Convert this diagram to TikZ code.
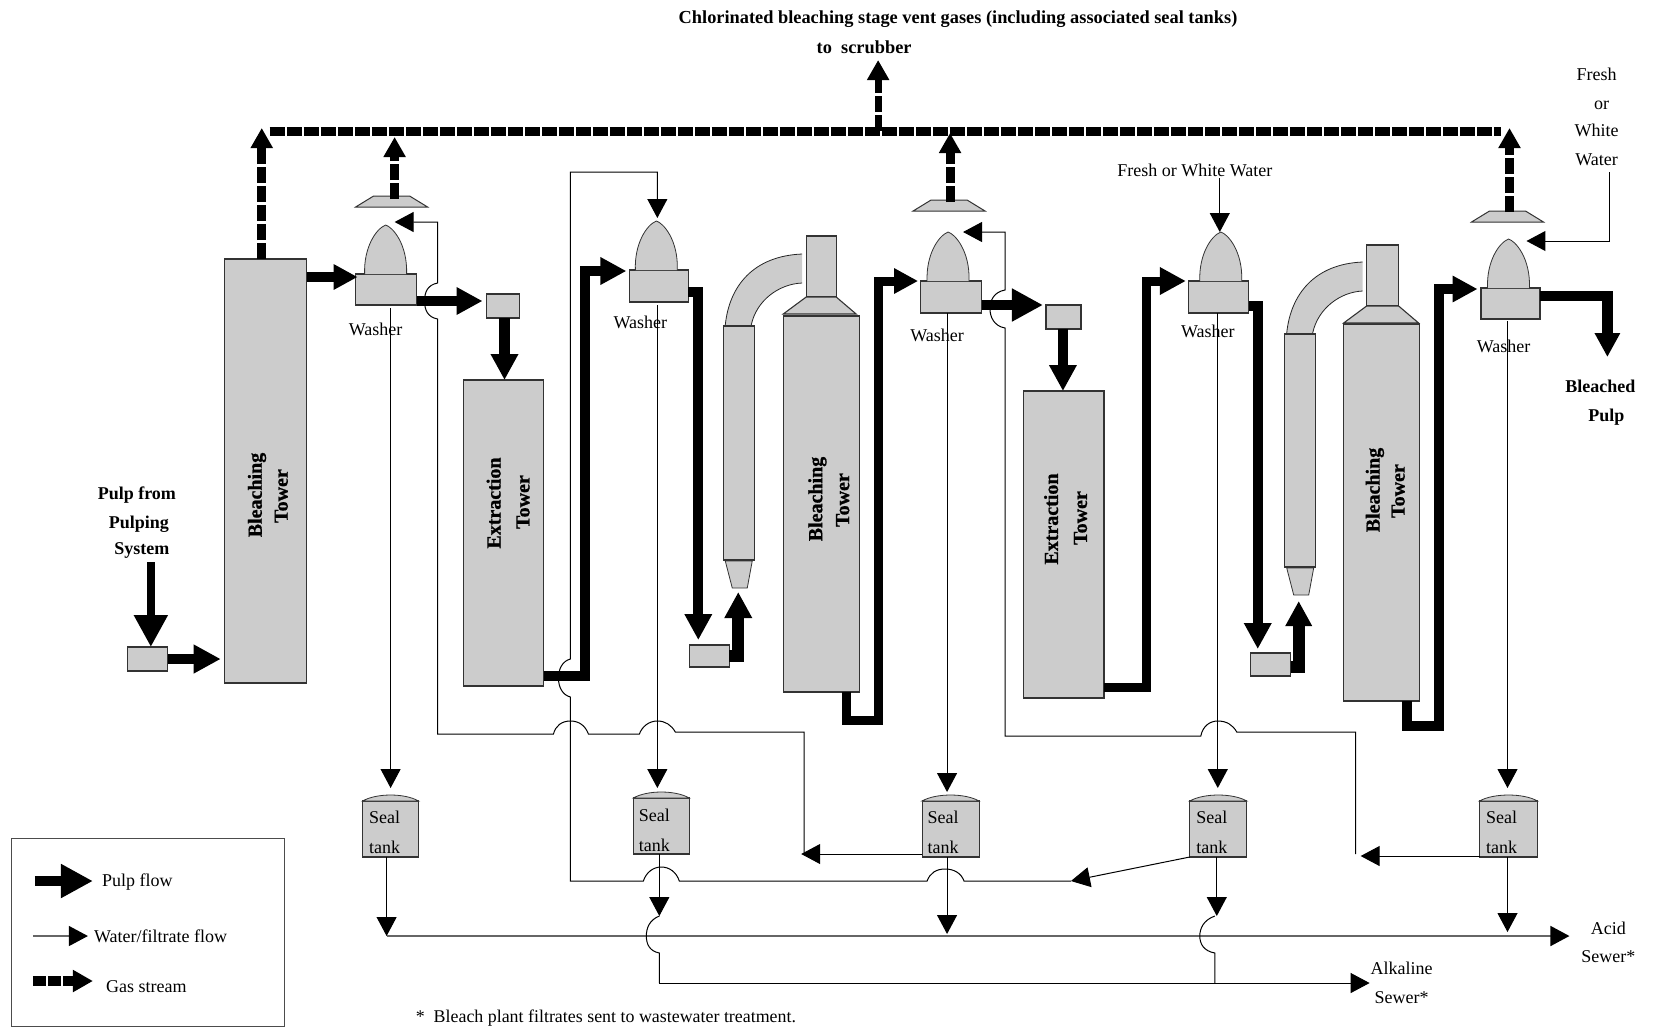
\documentclass[tikz,border=0pt]{standalone}
\usepackage{fontspec}
\setmainfont{Liberation Serif}
\newfontfamily\towerfont[UprightFont=* Bold,FakeBold=0.8]{Liberation Serif}
\usetikzlibrary{arrows.meta,calc}
\definecolor{plantgray}{HTML}{CCCCCC}
\tikzset{
  vessel/.style={draw=black!80,line width=1.1pt,fill=plantgray,inner sep=0pt,outer sep=0pt},
  lbl/.style={font=\fontsize{18}{20}\selectfont,inner sep=0pt,align=center},
  boldlbl/.style={lbl,font=\fontsize{18.35}{20}\selectfont\bfseries},
  towerlbl/.style={inner sep=0pt,anchor=base,rotate=90,font=\fontsize{20}{22}\selectfont\towerfont},
  pulpflow/.style={line width=10.5pt,-{Triangle[length=#1,width=#1]}},
  pulpflow/.default=26pt,
  gasflow/.style={line width=9pt,dash pattern=on 16pt off 3pt,-{Triangle[length=20pt,width=21pt]}},
  waterflow/.style={line width=1pt,black,-{Triangle[length=19pt,width=20pt,black]}},
  waterline/.style={line width=1pt,black},
}
\begin{document}
\begin{tikzpicture}[x=.999pt,y=-1pt]
  \useasboundingbox (0,0) rectangle (1654.65,1029);

  % towers
  \node[vessel,minimum width=82pt,minimum height=424pt] (bleachone) at (266,471) {};
  \node[vessel,minimum width=80pt,minimum height=306pt] (extrone) at (504,533) {};
  \node[vessel,minimum width=76pt,minimum height=376pt] (bleachtwo) at (822,504) {};
  \node[vessel,minimum width=80pt,minimum height=307pt] (extrtwo) at (1065,544.5) {};
  \node[vessel,minimum width=76pt,minimum height=377pt] (bleachthree) at (1383,512.5) {};
  \node[towerlbl] (bleachonea) at (262,495) {Bleaching};
  \node[towerlbl] (bleachoneb) at (288,496) {Tower};
  \node[towerlbl] (extronea) at (501,503) {Extraction};
  \node[towerlbl] (extroneb) at (530,502) {Tower};
  \node[towerlbl] (bleachtwoa) at (823,499) {Bleaching};
  \node[towerlbl] (bleachtwob) at (850,500) {Tower};
  \node[towerlbl] (extrtwoa) at (1059,519) {Extraction};
  \node[towerlbl] (extrtwob) at (1088,518) {Tower};
  \node[towerlbl] (bleachthreea) at (1381,490) {Bleaching};
  \node[towerlbl] (bleachthreeb) at (1406,491) {Tower};

  % small boxes
  \node[vessel,minimum width=40pt,minimum height=24pt] (feedbox) at (148,659) {};
  \node[vessel,minimum width=33pt,minimum height=24pt] (boxone) at (503.5,306) {};
  \node[vessel,minimum width=40pt,minimum height=22pt] (boxtwo) at (710,656) {};
  \node[vessel,minimum width=35pt,minimum height=24pt] (boxthree) at (1064.5,317) {};
  \node[vessel,minimum width=40pt,minimum height=23pt] (boxfour) at (1272,664.5) {};

  % washers
  \foreach \name/\x/\w/\y/\h/\dx in {washone/386.5/61/289.5/31/386,
      washtwo/659.5/59/286/32/657,
      washthree/952/61/297/32/949,
      washfour/1220/60/297/32/1222,
      washfive/1512/59/303.5/31/1510} {
    \node[vessel,minimum width=\w pt,minimum height=\h pt] (\name) at (\x,\y) {};
    \filldraw[draw=black!80,line width=.8pt,fill=plantgray]
      (\dx-21,\y-\h/2) .. controls (\dx-22,\y-\h/2-26) and (\dx-10,\y-\h/2-45) .. (\dx,\y-\h/2-49)
      .. controls (\dx+7,\y-\h/2-47) and (\dx+22,\y-\h/2-30) .. (\dx+21,\y-\h/2);
  }
  \node[lbl] (washlblone) at (376,329) {Washer};
  \node[lbl] (washlbltwo) at (641,322) {Washer};
  \node[lbl] (washlblthree) at (938,335) {Washer};
  \node[lbl] (washlblfour) at (1209,331) {Washer};
  \node[lbl] (washlblfive) at (1505,346) {Washer};

  % hoods
  \foreach \name/\x/\y in {hoodone/392/196,hoodtwo/950/200,hoodthree/1509/211} {
    \coordinate (\name) at (\x,\y);
    \filldraw[draw=black!80,line width=1pt,fill=plantgray]
      (\x-18,\y) -- (\x+18,\y) -- (\x+36,\y+11) -- (\x-36,\y+11) -- cycle;
  }

  % seal tanks
  \foreach \name/\x/\y/\w in {sealone/391/829/56,sealtwo/662/826/56,sealthree/951.5/829/57,
      sealfour/1219.5/829/57,sealfive/1510/829/58} {
    \node[vessel,minimum width=\w pt,minimum height=56pt] (\name) at (\x,\y) {};
    \filldraw[draw=black!80,line width=.8pt,fill=plantgray]
      (\name.north west) .. controls +(14,-8) and +(-14,-8) .. (\name.north east) -- cycle;
  }
  \node[lbl] (seallblone) at (385,832) {Seal\\[10pt]tank};
  \node[lbl] (seallbltwo) at (655,830) {Seal\\[10pt]tank};
  \node[lbl] (seallblthree) at (944,832) {Seal\\[10pt]tank};
  \node[lbl] (seallblfour) at (1213,832) {Seal\\[10pt]tank};
  \node[lbl] (seallblfive) at (1503,832) {Seal\\[10pt]tank};

  % gooseneck pipes
  \foreach \x/\y/\sx/\ctop/\cbot in {724/326/807/560/588,1286/334/1368/567/595} {
    \fill[plantgray] (\x+2,\y-1) .. controls (\x+6,\y-40) and (\x+30,\y-70) .. (\sx-4,\y-72)
      -- (\sx-4,\y-43) .. controls (\x+55,\y-42) and (\x+33,\y-25) .. (\x+28,\y-1) -- cycle;
    \draw[black!85,line width=.8pt] (\x+2,\y-1) .. controls (\x+6,\y-40) and (\x+30,\y-70) .. (\sx-4,\y-72);
    \draw[black!85,line width=.8pt] (\sx-4,\y-43) .. controls (\x+55,\y-42) and (\x+33,\y-25) .. (\x+28,\y-1);
    \filldraw[draw=black!80,line width=1.1pt,fill=plantgray] (\x,\y) rectangle (\x+31,\ctop);
    \filldraw[draw=black!80,line width=.8pt,fill=plantgray]
      (\x+2,\ctop+1) -- (\x+29,\ctop+1) -- (\x+24,\cbot) -- (\x+9,\cbot) -- cycle;
  }
  \node[vessel,minimum width=30pt,minimum height=61pt] (stackone) at (822,266.5) {};
  \node[vessel,minimum width=32pt,minimum height=61pt] (stacktwo) at (1384,275.5) {};
  \filldraw[draw=black!80,line width=1.1pt,fill=plantgray]
    (stackone.south west) -- (stackone.south east) -- (857,314) -- (784,314) -- cycle;
  \filldraw[draw=black!80,line width=1.1pt,fill=plantgray]
    (stacktwo.south west) -- (stacktwo.south east) -- (1420,323) -- (1345,323) -- cycle;

  % free ends and bends
  \coordinate (ventleft) at (270,131);
  \coordinate (ventright) at (1502,131);
  \coordinate (scrubber) at (879,60);
  \coordinate (acidstart) at (387,936);
  \coordinate (acidend) at (1571,936);
  \coordinate (alkstart) at (660,983);
  \coordinate (alkend) at (1371,983);
  \coordinate (mergeone) at (802,854);
  \coordinate (mergetwo) at (1362,856);
  \coordinate (mergethree) at (1072,881);

  % gas
  \draw[line width=9pt,dash pattern=on 15pt off 2pt] (ventleft) -- (ventright);
  \draw[gasflow] (bleachone.north -| 262,0) -- (262,128);
  \draw[gasflow] ($(hoodone)+(3,3)$) -- (395,137);
  \draw[gasflow] ($(hoodtwo)+(1,2)$) -- (951,133);
  \draw[gasflow] ($(hoodthree)+(2,1)$) -- (1511,128);
  \draw[gasflow,line width=7pt] (879,131) -- (scrubber);

  % pulp
  \draw[pulpflow=32pt,line width=8.5pt] (151,562) -- (feedbox.north -| 151,0);
  \draw[pulpflow=27pt,shorten >=4pt] (feedbox.east) -- (bleachone.west |- feedbox.east);
  \draw[pulpflow=24pt] (bleachone.east |- 0,277) -- (358,277);
  \draw[pulpflow] (washone.east |- 0,301) -- (483,301);
  \draw[pulpflow] (boxone.south -| 505,0) -- (extrone.north -| 505,0);
  \draw[pulpflow,line width=10pt] (extrone.east |- 0,676) -| (586,271) -- (627,271);
  \draw[pulpflow,line width=10pt] (washtwo.east |- 0,292) -| (699,640);
  \draw[pulpflow,line width=12pt] (boxtwo.east |- 0,656) -| (739,592);
  \draw[pulpflow=24pt,line width=9pt] (bleachtwo.south -| 847,0) |- (879,720) -- (879,281) -- (919,281);
  \draw[pulpflow=31pt,line width=10pt] (washthree.east |- 0,305) -- (1044,305);
  \draw[pulpflow] (boxthree.south -| 1064,0) -- (extrtwo.north -| 1064,0);
  \draw[pulpflow,line width=9pt] (extrtwo.east |- 0,687) -| (1148,281) -- (1187,281);
  \draw[pulpflow,line width=10pt] (washfour.east |- 0,306) -| (1259,649);
  \draw[pulpflow=25pt,line width=12pt] (boxfour.east |- 0,667) -| (1300,601);
  \draw[pulpflow=25pt,line width=10pt] (bleachthree.south -| 1408,0) |- (1440,726) -- (1440,289) -- (1479,289);
  \draw[pulpflow=24pt] (washfive.east |- 0,296) -| (1609,357);

  % water, washers to seal tanks
  \draw[waterflow] (391,308) -- (391,788);
  \draw[waterflow] (658,305) -- (658,788);
  \draw[waterflow] (948,313) -- (948,792);
  \draw[waterflow] (1219,313) -- (1219,788);
  \draw[waterflow] (1509,321) -- (1509,788);

  % water, recycle to first washers
  \draw[waterflow] (mergeone -| 805,0) -- (805,732) -- (676,732)
    .. controls (672,725) and (666,721) .. (658,721) .. controls (650,721) and (643,726) .. (640,734)
    -- (589,734) .. controls (586,726) and (580,721) .. (571,721) .. controls (562,721) and (556,726) .. (554,734)
    -- (438,734) -- (438,319) .. controls (428,317) and (425,310) .. (425,301) .. controls (425,292) and (428,285) .. (438,283)
    -- (438,222) -- (395,222);
  \draw[waterflow] (mergethree) -- (965,881) .. controls (962,873) and (955,869) .. (946,869)
    .. controls (937,869) and (931,873) .. (928,881) -- (680,881)
    .. controls (677,872) and (670,867) .. (662,867) .. controls (654,867) and (647,872) .. (644,881)
    -- (571,881) -- (571,697) .. controls (563,695) and (559,687) .. (559,678) .. controls (559,669) and (563,661) .. (571,659)
    -- (571,172) -- (658,172) -- (658,218);
  \draw[waterflow] (1357,854) -- (1357,732) -- (1238,732) .. controls (1234,725) and (1228,721) .. (1219,721)
    .. controls (1211,721) and (1204,726) .. (1202,736) -- (1006,736) -- (1006,328)
    .. controls (995,326) and (991,317) .. (991,309) .. controls (991,300) and (995,292) .. (1006,290)
    -- (1006,232) -- (964,232);
  \draw[waterflow] (1611,172) -- (1611,241) -- (1528,241);
  \draw[waterflow] (1221,178) -- (1221,232);
  \draw[waterflow] (sealthree.west |- mergeone) -- (mergeone);
  \draw[waterflow] (sealfive.west |- mergetwo) -- (mergetwo);
  \draw[waterflow] (sealfour.south west) -- (mergethree);

  % water, seal tanks to sewers
  \draw[waterflow] (sealone.south -| 387,0) -- (acidstart);
  \draw[waterflow,line width=1.6pt,black!60] (acidstart) -- (acidend);
  \draw[waterflow] (sealtwo.south -| 660,0) -- (660,916);
  \draw[waterline] (660,916) .. controls (650,920) and (647,928) .. (647,936) .. controls (647,944) and (650,951) .. (660,953) -- (alkstart);
  \draw[waterflow] (alkstart) -- (alkend);
  \draw[waterflow] (sealthree.south -| 948,0) -- (948,934);
  \draw[waterflow] (sealfour.south -| 1218,0) -- (1218,916);
  \draw[waterline] (1216,916) .. controls (1205,920) and (1201,928) .. (1201,936) .. controls (1201,944) and (1205,951) .. (1216,953) -- (1216,983);
  \draw[waterflow] (sealfive.south -| 1509,0) -- (1509,932);

  % texts
  \node[boldlbl] (titleone) at (959,19) {Chlorinated bleaching stage vent gases (including associated seal tanks)};
  \node[boldlbl] (titletwo) at (865,47) {to\ \ scrubber};
  \node[boldlbl,font=\fontsize{18}{20}\selectfont\bfseries] (pulpfrom) at (137,523) {Pulp from\\[9pt]\hspace*{4pt}Pulping\\[6pt]\hspace*{10pt}System};
  \node[boldlbl,font=\fontsize{18}{20}\selectfont\bfseries] (bleached) at (1602,403) {Bleached\\[9pt]\hspace*{12pt}Pulp};
  \node[lbl] (freshtop) at (1196,170) {Fresh or White Water};
  \node[lbl,anchor=west] (freshside) at (1576,117) {Fresh\\[9pt]\hspace*{10pt}or\\[7pt]White\\[9pt]Water};
  \node[lbl] (acid) at (1610,942) {Acid\\[8pt]Sewer*};
  \node[lbl] (alkaline) at (1403,983) {Alkaline\\[9pt]Sewer*};
  \node[lbl,anchor=west,font=\fontsize{17.9}{20}\selectfont] (footnote) at (416,1018) {*\ \ Bleach plant filtrates sent to wastewater treatment.};

  % legend
  \node[draw=black!70,line width=1pt,inner sep=0pt,minimum width=273pt,minimum height=188pt] (legendbox) at (148.5,932) {};
  \coordinate (pulpkeya) at (35,881);
  \coordinate (pulpkeyb) at (93,881);
  \coordinate (waterkeya) at (33,936);
  \coordinate (waterkeyb) at (88,936);
  \coordinate (gaskeya) at (33,981);
  \coordinate (gaskeyb) at (93,981);
  \draw[pulpflow=32pt,line width=9.5pt] (pulpkeya) -- (pulpkeyb);
  \draw[waterflow,black!60,line width=1.2pt] (waterkeya) -- (waterkeyb);
  \draw[gasflow,line width=10pt,dash pattern=on 13pt off 2pt] (gaskeya) -- (gaskeyb);
  \node[lbl,anchor=west] (pulpkey) at (102,882) {Pulp flow};
  \node[lbl,anchor=west] (waterkey) at (94,936) {Water/filtrate flow};
  \node[lbl,anchor=west] (gaskey) at (106,987) {Gas stream};
\end{tikzpicture}
\end{document}
